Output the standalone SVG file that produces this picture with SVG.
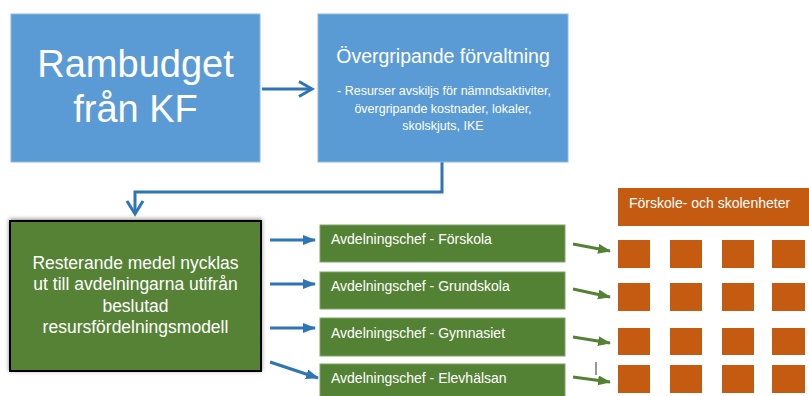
<svg xmlns="http://www.w3.org/2000/svg" width="809" height="396" viewBox="0 0 809 396">
<defs>
<style>
.blue{fill:#5B9BD5;stroke:#8DB8E2;stroke-width:1}
.green{fill:#548235;stroke:#7FA366;stroke-width:1}
.orange{fill:#C55A11}
.t{font-family:"Liberation Sans",Arial,sans-serif;fill:#FFFFFF}
.c{text-anchor:middle}
.ba{stroke:#2E75B6;stroke-width:3;fill:none}
.ga{stroke:#548235;stroke-width:3;fill:none}
</style>
<marker id="hb" markerUnits="userSpaceOnUse" markerWidth="14" markerHeight="12" refX="12" refY="5" orient="auto">
<path d="M0,0 L13,5 L0,10 z" fill="#2E75B6"/>
</marker>
<marker id="hg" markerUnits="userSpaceOnUse" markerWidth="14" markerHeight="12" refX="12" refY="5" orient="auto">
<path d="M0,0 L13,5 L0,10 z" fill="#548235"/>
</marker>
<filter id="sh" x="-10%" y="-10%" width="120%" height="120%">
<feDropShadow dx="0" dy="-1" stdDeviation="2" flood-color="#000" flood-opacity="0.45"/>
</filter>
</defs>

<g id="connectors">
<path class="ba" d="M262 89 H312"/>
<path class="ba" d="M299 81.5 L312 89 L299 96.5" stroke-linejoin="miter"/>
<path class="ba" d="M442 162 V192 H135 V213"/>
<path class="ba" d="M127 201 L135 214 L143 201"/>
<path class="ba" d="M270 240 H315" marker-end="url(#hb)"/>
<path class="ba" d="M270 284 H315" marker-end="url(#hb)"/>
<path class="ba" d="M270 328 H315" marker-end="url(#hb)"/>
<path class="ba" d="M270 362 L318 378" marker-end="url(#hb)"/>
<path class="ga" d="M573 244 L610 251" marker-end="url(#hg)"/>
<path class="ga" d="M573 289 L610 297" marker-end="url(#hg)"/>
<path class="ga" d="M573 337 L610 343" marker-end="url(#hg)"/>
<path class="ga" d="M573 377 L610 382" marker-end="url(#hg)"/>
</g>

<g id="rambudget">
<rect class="blue" x="11" y="14" width="249" height="148"/>
<text class="t c" x="135.5" y="77" font-size="38">Rambudget</text>
<text class="t c" x="135.5" y="122" font-size="38">från KF</text>
</g>

<g id="overgripande">
<rect class="blue" x="318" y="14" width="250" height="148"/>
<text class="t c" x="443" y="63" font-size="19.5">Övergripande förvaltning</text>
<text class="t c" x="444" y="95" font-size="12.5">- Resurser avskiljs för nämndsaktiviter,</text>
<text class="t c" x="443" y="113" font-size="12.5">övergripande kostnader, lokaler,</text>
<text class="t c" x="443" y="130" font-size="12.5">skolskjuts, IKE</text>
</g>

<g id="resterande">
<rect x="10" y="221" width="251" height="150" fill="#548235" stroke="#000" stroke-width="2" filter="url(#sh)"/>
<text class="t c" x="135.5" y="269" font-size="17.5">Resterande medel nycklas</text>
<text class="t c" x="135.5" y="290" font-size="17.5">ut till avdelningarna utifrån</text>
<text class="t c" x="135.5" y="312" font-size="17.5">beslutad</text>
<text class="t c" x="135.5" y="333" font-size="17.5">resursfördelningsmodell</text>
</g>

<g id="forskola">
<rect class="green" x="320" y="225" width="245" height="37"/>
<text class="t" x="331" y="244" font-size="14">Avdelningschef - Förskola</text>
</g>
<g id="grundskola">
<rect class="green" x="320" y="272" width="245" height="37"/>
<text class="t" x="331" y="291" font-size="14">Avdelningschef - Grundskola</text>
</g>
<g id="gymnasiet">
<rect class="green" x="320" y="318" width="245" height="38"/>
<text class="t" x="331" y="338" font-size="14">Avdelningschef - Gymnasiet</text>
</g>
<g id="elevhalsan">
<rect class="green" x="320" y="364" width="245" height="38"/>
<text class="t" x="331" y="383" font-size="14">Avdelningschef - Elevhälsan</text>
</g>

<g id="enheter">
<rect class="orange" x="618" y="188" width="191" height="38"/>
<text class="t" x="629" y="208" font-size="14">Förskole- och skolenheter</text>
</g>

<g id="units">
<rect class="orange" x="618" y="240" width="32" height="28"/>
<rect class="orange" x="670" y="240" width="32" height="28"/>
<rect class="orange" x="722" y="240" width="32" height="28"/>
<rect class="orange" x="772" y="240" width="33" height="28"/>
<rect class="orange" x="618" y="283" width="32" height="28"/>
<rect class="orange" x="670" y="283" width="32" height="28"/>
<rect class="orange" x="722" y="283" width="32" height="28"/>
<rect class="orange" x="772" y="283" width="33" height="28"/>
<rect class="orange" x="618" y="328" width="32" height="27"/>
<rect class="orange" x="670" y="328" width="32" height="27"/>
<rect class="orange" x="722" y="328" width="32" height="27"/>
<rect class="orange" x="772" y="328" width="33" height="27"/>
<rect class="orange" x="618" y="365" width="32" height="28"/>
<rect class="orange" x="670" y="365" width="32" height="28"/>
<rect class="orange" x="722" y="365" width="32" height="28"/>
<rect class="orange" x="772" y="365" width="33" height="28"/>
</g>

<line x1="596" y1="362" x2="596" y2="375" stroke="#333" stroke-width="1"/>
</svg>
